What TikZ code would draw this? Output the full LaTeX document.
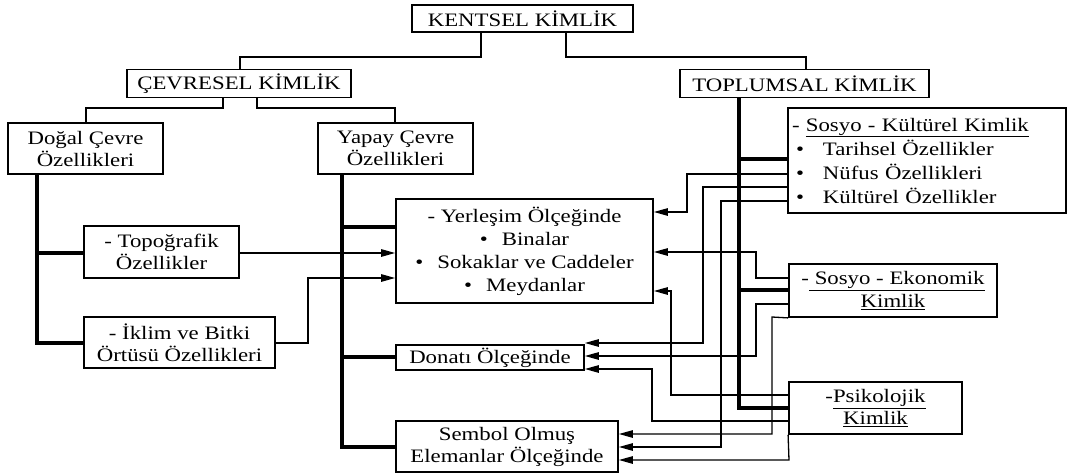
\documentclass[tikz,border=0pt]{standalone}
\usepackage{fontspec}
\setmainfont{Liberation Serif}[FakeStretch=1.2]
\usetikzlibrary{arrows.meta}
\begin{document}
\begin{tikzpicture}[x=1pt,y=-1pt,
  box/.style={draw, line width=1.8pt, inner sep=2pt, align=center,
    font=\fontsize{19}{22}\selectfont},
  thinline/.style={line width=1.3pt},
  thickline/.style={line width=4.5pt, line join=miter},
  arr/.style={line width=1.3pt, -{Triangle[length=14pt,width=7.5pt]}}
]
\useasboundingbox (0,0) rectangle (1072,475);

% boxes
\node[box, minimum width=221pt, minimum height=27pt] (kent) at (522.5,18.5) {KENTSEL KİMLİK};
\node[box, minimum width=224pt, minimum height=28pt] (cevre) at (239,83.5) {ÇEVRESEL KİMLİK};
\node[box, minimum width=249pt, minimum height=28pt] (toplum) at (804.5,83.5) {TOPLUMSAL KİMLİK};
\node[box, minimum width=155pt, minimum height=51pt] (dogal) at (85.5,148.5) {Doğal Çevre\\Özellikleri};
\node[box, minimum width=155pt, minimum height=51pt] (yapay) at (395.5,148.5) {Yapay Çevre\\Özellikleri};
\node[box, minimum width=155pt, minimum height=52pt] (topo) at (161.5,252) {- Topoğrafik\\Özellikler};
\node[box, minimum width=191pt, minimum height=51pt] (iklim) at (179.5,342.5) {- İklim ve Bitki\\Örtüsü Özellikleri};
\node[box, minimum width=257pt, minimum height=104pt,
  font=\fontsize{19}{23}\selectfont] (yer) at (524.5,251)
  {- Yerleşim Ölçeğinde\\ \textbullet\hspace{14pt}Binalar\\ \textbullet\hspace{14pt}Sokaklar ve Caddeler\\ \textbullet\hspace{14pt}Meydanlar};
\node[box, minimum width=188pt, minimum height=25pt] (donati) at (490,357.5) {Donatı Ölçeğinde};
\node[box, minimum width=222pt, minimum height=51pt] (sembol) at (507,446.5) {Sembol Olmuş\\Elemanlar Ölçeğinde};
\node[box, align=left, text width=270pt, inner sep=4pt, minimum height=105pt,
  font=\fontsize{19}{24}\selectfont] (kult) at (927,160.5)
  {- \underline{Sosyo - Kültürel Kimlik}\\
   \hspace*{4pt}\textbullet\hspace{19pt}Tarihsel Özellikler\\
   \hspace*{4pt}\textbullet\hspace{19pt}Nüfus Özellikleri\\
   \hspace*{4pt}\textbullet\hspace{19pt}Kültürel Özellikler};
\node[box, minimum width=208pt, minimum height=53pt,
  font=\fontsize{19}{23}\selectfont] (ekon) at (893,290.5) {-\underline{ Sosyo - Ekonomik}\\\underline{Kimlik}};
\node[box, minimum width=173pt, minimum height=52pt] (psiko) at (875.5,408) {-\underline{Psikolojik}\\\underline{Kimlik}};

% tree connectors
\draw[thinline] (kent.south -| 481,0) -- (481,57) -- (240,57) -- (cevre.north -| 240,0);
\draw[thinline] (kent.south -| 566,0) -- (566,57) -- (806,57) -- (toplum.north -| 806,0);
\draw[thinline] (cevre.south -| 223,0) -- (223,108) -- (86,108) -- (dogal.north -| 86,0);
\draw[thinline] (cevre.south -| 257,0) -- (257,108) -- (395,108) -- (yapay.north -| 395,0);

% thick spines
\draw[thickline] (dogal.south -| 37,0) -- (37,343) -- (iklim.west |- 0,343);
\draw[thickline] (37,253) -- (topo.west |- 0,253);
\draw[thickline] (yapay.south -| 342,0) -- (342,447) -- (sembol.west |- 0,447);
\draw[thickline] (342,227) -- (yer.west |- 0,227);
\draw[thickline] (342,357) -- (donati.west |- 0,357);
\draw[thickline] (toplum.south -| 739,0) -- (739,408) -- (psiko.west |- 0,408);
\draw[thickline] (739,159) -- (kult.west |- 0,159);
\draw[thickline] (739,290) -- (ekon.west |- 0,290);

% arrows from the left
\draw[arr] (topo.east |- 0,253) -- (yer.west |- 0,253);
\draw[arr] (iklim.east |- 0,343) -- (308,343) -- (308,278) -- (yer.west |- 0,278);

% arrows from Sosyo-Kulturel
\draw[arr] (kult.west |- 0,174) -- (687,174) -- (687,212) -- (yer.east |- 0,212);
\draw[arr] (kult.west |- 0,187) -- (703,187) -- (703,343) -- (donati.east |- 0,343);
\draw[arr] (kult.west |- 0,201) -- (721,201) -- (721,447) -- (sembol.east |- 0,447);

% arrows from Sosyo-Ekonomik
\draw[arr] (ekon.west |- 0,278) -- (756,278) -- (756,252) -- (yer.east |- 0,252);
\draw[arr] (ekon.west |- 0,304) -- (756,304) -- (756,356) -- (donati.east |- 0,356);
\draw[arr] (ekon.south west) -- (772,317) -- (772,434) -- (sembol.east |- 0,434);

% arrows from Psikolojik
\draw[arr] (psiko.west |- 0,395) -- (671,395) -- (671,291) -- (yer.east |- 0,291);
\draw[arr] (psiko.west |- 0,421) -- (652,421) -- (652,369) -- (donati.east |- 0,369);
\draw[arr] (psiko.south west) -- (789,460) -- (sembol.east |- 0,460);
\end{tikzpicture}
\end{document}
